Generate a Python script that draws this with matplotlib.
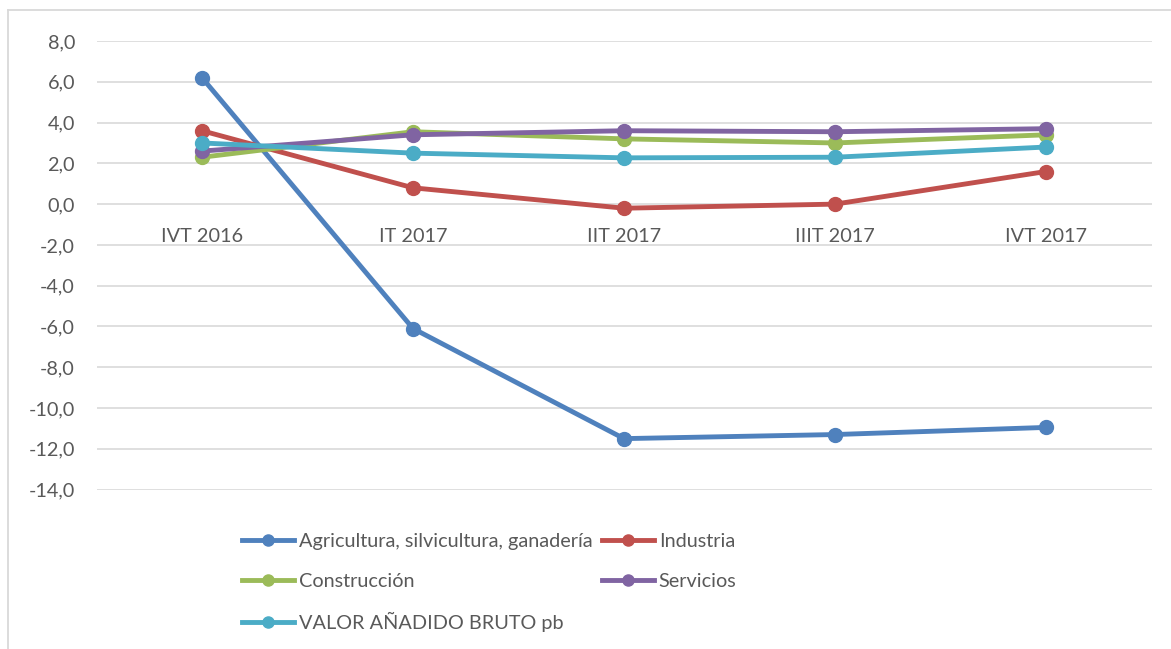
import matplotlib
matplotlib.use("Agg")
import matplotlib.pyplot as plt
from matplotlib.lines import Line2D

plt.rcParams['font.family'] = ['Lato', 'DejaVu Sans']

categories = ["IVT 2016", "IT 2017", "IIT 2017", "IIIT 2017", "IVT 2017"]
agricultura = [6.2, -6.1, -11.5, -11.3, -10.95]
industria = [3.6, 0.8, -0.2, 0.0, 1.6]
construccion = [2.3, 3.55, 3.2, 3.0, 3.4]
servicios = [2.6, 3.4, 3.6, 3.55, 3.7]
vab = [3.0, 2.5, 2.27, 2.3, 2.8]

series_names = ["Agricultura, silvicultura, ganadería", "Industria",
                "Construcción", "Servicios", "VALOR AÑADIDO BRUTO pb"]
series_values = [agricultura, industria, construccion, servicios, vab]
colors = ["#4F81BD", "#C0504D", "#9BBB59", "#8064A2", "#4BACC6"]

FS = 14.3
W, H = 1171, 649
fig = plt.figure(figsize=(W / 100, H / 100), dpi=100)
ax = fig.add_axes([96.5 / W, 1 - 489.6 / H, (1151.5 - 96.5) / W, (489.6 - 41) / H])

x = list(range(len(categories)))
draw_order = [0, 1, 2, 4, 3]
for i in draw_order:
    ax.plot(x, series_values[i], color=colors[i], lw=3.5, marker='o',
            markersize=10, solid_capstyle='round', zorder=3 + i * 0.1)

ax.set_xlim(-0.5, len(categories) - 0.5)
ax.set_ylim(-14, 8)
yticks = list(range(-14, 9, 2))
ax.set_yticks(yticks)
ax.set_yticklabels([f"{v:.1f}".replace('.', ',') for v in yticks],
                   fontsize=FS, color='#595959')
ax.tick_params(axis='y', length=0, pad=15.5)
ax.set_xticks([])
for s in ax.spines.values():
    s.set_visible(False)
ax.yaxis.grid(True, color='#D9D9D9', lw=1.2)
ax.set_axisbelow(True)

for xi, c in zip(x, categories):
    ax.annotate(c, (xi, 0), xytext=(0, -32), textcoords='offset pixels',
                ha='center', va='center', fontsize=FS, color='#595959')

# legend (row-wise order)
order = [0, 2, 4, 1, 3]
leg_handles = [Line2D([0], [0], color=colors[i], lw=3.5, marker='o', markersize=8)
               for i in order]
leg = fig.legend(leg_handles, [series_names[i] for i in order], ncol=2,
                 loc='upper left', bbox_to_anchor=(242 / W, 1 - 533 / H),
                 frameon=False, fontsize=FS, handlelength=2.6, handletextpad=0.25,
                 columnspacing=0.5, labelspacing=1.14, borderpad=0, borderaxespad=0)
for t in leg.get_texts():
    t.set_color('#595959')

# outer border
fig.add_artist(Line2D([8 / W, 1.0], [1 - 10 / H, 1 - 10 / H], color='#D9D9D9', lw=1.3))
fig.add_artist(Line2D([8 / W, 8 / W], [0, 1 - 10 / H], color='#D9D9D9', lw=1.3))

fig.savefig("out.png", dpi=100)
